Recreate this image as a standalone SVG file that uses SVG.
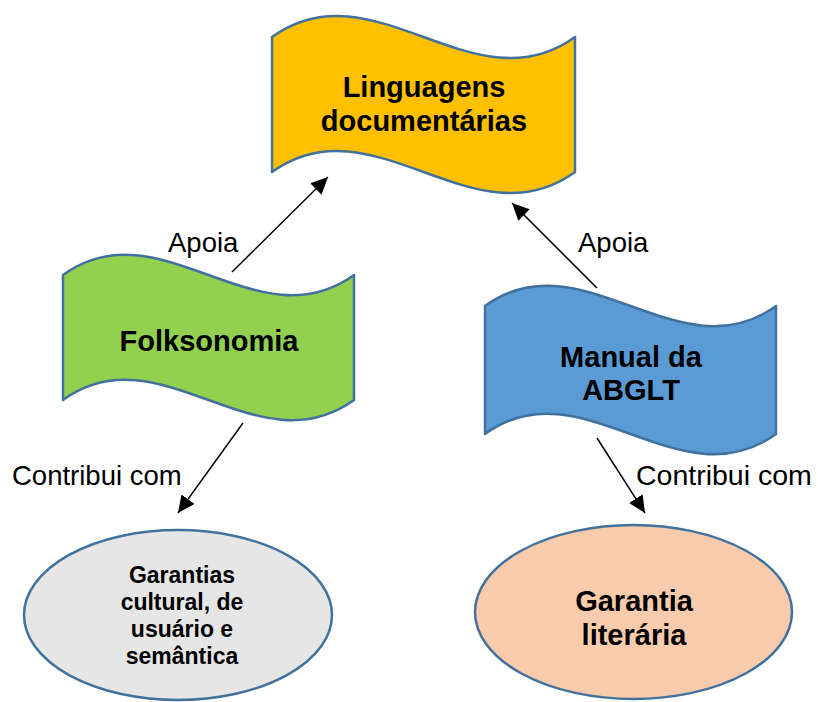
<svg xmlns="http://www.w3.org/2000/svg" width="818" height="702" viewBox="0 0 818 702">
  <style>
    .shape { stroke: #41719C; stroke-width: 2.5; stroke-linejoin: round; }
    .bold { font-family: "Liberation Sans", Arial, sans-serif; font-weight: bold; font-size: 29px; fill: #000; text-anchor: middle; }
    .small { font-size: 23px; }
    .lbl { font-family: "Liberation Sans", Arial, sans-serif; font-size: 27.5px; fill: #000; }
    .wide { font-size: 28.5px; }
    .conn { stroke: #000; stroke-width: 1.5; fill: none; marker-end: url(#arrow); }
  </style>
  <defs>
    <marker id="arrow" markerUnits="userSpaceOnUse" markerWidth="18" markerHeight="16" refX="17" refY="8" orient="auto">
      <path d="M0,0 L17,8 L0,16 Z" fill="#000"/>
    </marker>
  </defs>
  <rect width="818" height="702" fill="#fff"/>

  <g id="linguagens">
    <path class="shape" fill="#FFC000" d="M272,37 C373,-36 474,110 575,37 L575,172 C474,245 373,99 272,172 Z"/>
    <text class="bold" x="424" y="97">Linguagens</text>
    <text class="bold" x="424" y="131">documentárias</text>
  </g>

  <g id="folksonomia">
    <path class="shape" fill="#92D050" d="M63,275 C160,205 257,345 354,275 L354,400 C257,470 160,330 63,400 Z"/>
    <text class="bold" x="209" y="351">Folksonomia</text>
  </g>

  <g id="manual">
    <path class="shape" fill="#5B9BD5" d="M485,306 C582,236 679,376 776,306 L776,434 C679,504 582,364 485,434 Z"/>
    <text class="bold" x="631" y="367">Manual da</text>
    <text class="bold" x="631" y="400">ABGLT</text>
  </g>

  <g id="garantias">
    <ellipse class="shape" fill="#E7E6E6" cx="178" cy="615" rx="154" ry="85"/>
    <text class="bold small" x="182" y="583">Garantias</text>
    <text class="bold small" x="182" y="610">cultural, de</text>
    <text class="bold small" x="182" y="637">usuário e</text>
    <text class="bold small" x="182" y="664">semântica</text>
  </g>

  <g id="garantia-literaria">
    <ellipse class="shape" fill="#F8CBAD" cx="633.5" cy="612" rx="158.5" ry="87"/>
    <text class="bold" x="634" y="611">Garantia</text>
    <text class="bold" x="634" y="645">literária</text>
  </g>

  <g id="connectors">
    <line class="conn" x1="232" y1="272" x2="328" y2="177"/>
    <line class="conn" x1="597" y1="288" x2="512" y2="203"/>
    <line class="conn" x1="243" y1="423" x2="178" y2="513"/>
    <line class="conn" x1="597" y1="438" x2="645" y2="513"/>
    <text class="lbl" x="168" y="252">Apoia</text>
    <text class="lbl" x="578" y="252">Apoia</text>
    <text class="lbl" x="12" y="485">Contribui com</text>
    <text class="lbl wide" x="636" y="485">Contribui com</text>
  </g>
</svg>
